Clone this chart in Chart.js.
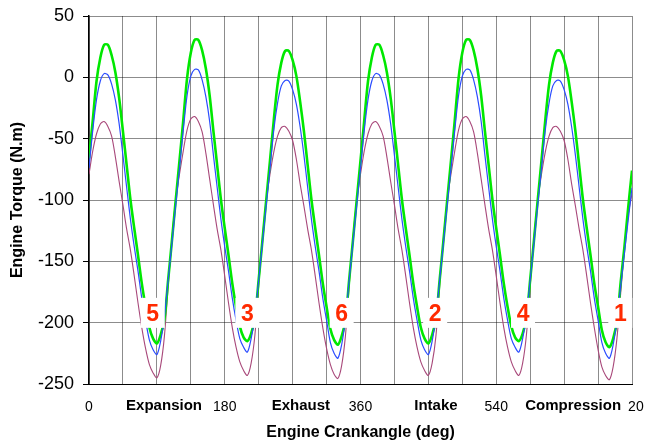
<!DOCTYPE html>
<html>
<head>
<meta charset="utf-8">
<script src="https://cdn.jsdelivr.net/npm/chart.js@4.4.1/dist/chart.umd.min.js"></script>
<style>
html, body { margin: 0; padding: 0; background: #fff; }
</style>
</head>
<body>
<canvas id="torqueChart" width="647" height="446"></canvas>
<script>
// crank angle samples (deg)
var crankAngles = [
    0, 5, 10, 15, 20, 25, 30, 35, 40, 45, 50, 55, 60, 65, 70, 75, 80, 85, 90, 95, 100, 105, 110, 115,
    120, 125, 130, 135, 140, 145, 150, 155, 160, 165, 170, 175, 180, 185, 190, 195, 200, 205, 210, 215, 220, 225, 230, 235,
    240, 245, 250, 255, 260, 265, 270, 275, 280, 285, 290, 295, 300, 305, 310, 315, 320, 325, 330, 335, 340, 345, 350, 355,
    360, 365, 370, 375, 380, 385, 390, 395, 400, 405, 410, 415, 420, 425, 430, 435, 440, 445, 450, 455, 460, 465, 470, 475,
    480, 485, 490, 495, 500, 505, 510, 515, 520, 525, 530, 535, 540, 545, 550, 555, 560, 565, 570, 575, 580, 585, 590, 595,
    600, 605, 610, 615, 620, 625, 630, 635, 640, 645, 650, 655, 660, 665, 670, 675, 680, 685, 690, 695, 700, 705, 710, 715,
    720
];

// green trace (N.m)
var torqueUpper = [
    -66, -35, -3, 16, 26.5,
    26.5, 18, 4, -17, -44, -72, -100, -123, -145, -168, -187, -204, -213, -217, -210, -197, -165, -133, -100, -68, -35, -1, 20, 30.5,
    30.5, 22, 7, -15, -44, -72, -100, -123, -145, -168, -187, -203, -212, -215, -209, -196, -165, -133, -100, -68, -35, -6, 12, 21.5,
    21.5, 14, 1, -20, -44, -72, -100, -123, -145, -168, -187, -205, -214, -218, -211, -198, -165, -133, -100, -68, -35, -3, 16, 26.5,
    26.5, 18, 4, -17, -44, -72, -100, -123, -145, -168, -187, -204, -213, -217, -210, -197, -165, -133, -100, -68, -35, -1, 20, 30.5,
    30.5, 22, 7, -15, -44, -72, -100, -123, -145, -168, -187, -203, -212, -215, -209, -196, -165, -133, -100, -68, -35, -6, 12, 21.5,
    21.5, 14, 1, -20, -44, -72, -100, -123, -145, -168, -187, -206, -216, -220, -213, -199, -167, -138, -106, -76
];

// blue trace (N.m)
var torqueMiddle = [
    -74, -43, -18, -3, 3,
    2, -5.5, -18.6, -38, -63.6, -90, -116, -138, -158, -180, -198, -214, -222, -226, -215, -195, -165, -135, -104, -74, -43, -15, 1, 6.5,
    6, -2, -16, -36, -63.6, -90, -116, -138, -158, -180, -198, -213, -220, -224, -213, -194, -165, -135, -104, -74, -43, -21, -7, -2.5,
    -3, -10, -22, -40.5, -63.6, -90, -116, -138, -158, -180, -198, -216, -225, -229, -218, -197, -165, -135, -104, -74, -43, -18, -3, 3,
    2, -5.5, -18.6, -38, -63.6, -90, -116, -138, -158, -180, -198, -214, -222, -226, -215, -195, -165, -135, -104, -74, -43, -15, 1, 6.5,
    6, -2, -16, -36, -63.6, -90, -116, -138, -158, -180, -198, -213, -220, -224, -213, -194, -165, -135, -104, -74, -43, -21, -7, -2.5,
    -3, -10, -22, -40.5, -63.6, -90, -116, -138, -158, -180, -198, -216, -225, -229, -218, -198, -170, -143, -116, -90
];

// purple trace (N.m)
var torqueLower = [
    -79, -60, -46, -38, -36,
    -40, -48, -65, -85, -104, -124, -141, -162, -184, -204, -221, -234, -241, -245, -235, -211, -170, -131, -100, -79, -60, -43, -34, -32,
    -36, -44.5, -62, -83, -104, -124, -141, -162, -184, -204, -220, -232, -239, -243, -233, -210, -170, -131, -100, -79, -61, -48, -41, -40,
    -44, -51.5, -67, -87, -105, -124, -141, -162, -184, -204, -221, -234, -242, -245.5, -235, -211, -170, -131, -100, -79, -60, -46, -38, -36,
    -40, -48, -65, -85, -104, -124, -141, -162, -184, -204, -220, -232, -239, -243, -233, -211, -170, -131, -100, -79, -60, -43, -34, -32,
    -36, -44.5, -62, -83, -104, -124, -141, -162, -184, -204, -220, -232, -239, -243, -233, -210, -170, -131, -100, -79, -61, -48, -41, -40,
    -44, -51.5, -67, -87, -105, -124, -141, -162, -184, -204, -222, -236, -243, -246.5, -236, -213, -176, -140, -112, -95
];

var gridAngles = [0, 45, 90, 135, 180, 225, 270, 315, 360, 405, 450, 495, 540, 585, 630, 675, 720];
var labelledAngles = [0, 180, 360, 540, 720];

var strokeNames = ['Expansion', 'Exhaust', 'Intake', 'Compression'];
var strokeAngles = [99.5, 281, 460, 642];

var cylinderNumbers = ['5', '3', '6', '2', '4', '1'];
var cylinderAngles = [84.5, 210, 335, 459, 575.5, 704.5];
var cylinderTorque = -192;

var FONT = '"Liberation Sans", Arial, sans-serif';

function series(values) {
    return crankAngles.map(function(a, i) { return { x: a, y: values[i] }; });
}

/* stroke names and cylinder numbers, drawn in white boxes */
var annotations = {
    id: 'annotations',
    afterDraw: function(chart) {
        var ctx = chart.ctx, x = chart.scales.x, y = chart.scales.y;
        ctx.save();
        ctx.textAlign = 'center';
        ctx.textBaseline = 'alphabetic';

        ctx.font = 'bold 15px ' + FONT;
        strokeNames.forEach(function(name, i) {
            var px = x.getPixelForValue(strokeAngles[i]);
            var w = ctx.measureText(name).width;
            ctx.fillStyle = '#fff';
            ctx.fillRect(px - w / 2 - 7, y.bottom + 12, w + 14, 18);
            ctx.fillStyle = '#000';
            ctx.fillText(name, px, y.bottom + 26);
        });

        ctx.font = 'bold 23px ' + FONT;
        cylinderNumbers.forEach(function(n, i) {
            var px = x.getPixelForValue(cylinderAngles[i]);
            var py = y.getPixelForValue(cylinderTorque);
            ctx.fillStyle = '#fff';
            ctx.fillRect(px - 12, py - 15, 24, 30);
            ctx.fillStyle = '#ff2a00';
            ctx.fillText(n, px, py + 8.5);
        });
        ctx.restore();
    }
};

new Chart(document.getElementById('torqueChart'), {
    type: 'line',
    data: {
        datasets: [{
            data: series(torqueMiddle),
            borderColor: '#2a4cff',
            borderWidth: 1.2,
            order: 1
        }, {
            data: series(torqueUpper),
            borderColor: '#00e800',
            borderWidth: 2.6,
            order: 2
        }, {
            data: series(torqueLower),
            borderColor: '#a8487a',
            borderWidth: 1.1,
            order: 3
        }]
    },
    options: {
        responsive: false,
        animation: false,
        devicePixelRatio: 1,
        layout: { padding: { top: 16, right: 15, left: 0, bottom: 0 } },
        plugins: { legend: { display: false }, tooltip: { enabled: false } },
        elements: { point: { radius: 0 }, line: { tension: 0.3 } },
        scales: {
            x: {
                type: 'linear',
                min: 0,
                max: 720,
                afterBuildTicks: function(s) { s.ticks = gridAngles.map(function(v) { return { value: v }; }); },
                afterFit: function(s) { s.height = 62; },
                ticks: {
                    autoSkip: false,
                    maxRotation: 0,
                    padding: 0,
                    color: '#000',
                    font: { family: FONT, size: 14 },
                    callback: function(v) { return labelledAngles.indexOf(v) >= 0 ? String(v) : ''; }
                },
                grid: { color: 'rgba(0,0,0,0.45)', drawTicks: true, tickLength: 15, tickColor: 'rgba(0,0,0,0)' },
                border: { color: '#000', width: 1 },
                title: {
                    display: true,
                    text: 'Engine Crankangle (deg)',
                    color: '#000',
                    font: { family: FONT, size: 16, weight: 'bold' },
                    padding: { top: 0, bottom: 4 }
                }
            },
            y: {
                min: -250,
                max: 50,
                afterFit: function(s) { s.width = 89; },
                ticks: {
                    stepSize: 50,
                    padding: 9,
                    color: '#000',
                    font: { family: FONT, size: 18, lineHeight: 0.75 }
                },
                grid: { color: 'rgba(0,0,0,0.45)', tickColor: '#000', tickLength: 6 },
                border: { color: '#000', width: 1.5 },
                title: {
                    display: true,
                    text: 'Engine Torque (N.m)',
                    color: '#000',
                    font: { family: FONT, size: 16, weight: 'bold' },
                    padding: { top: 8, bottom: 0 }
                }
            }
        }
    },
    plugins: [annotations]
});
</script>
</body>
</html>
